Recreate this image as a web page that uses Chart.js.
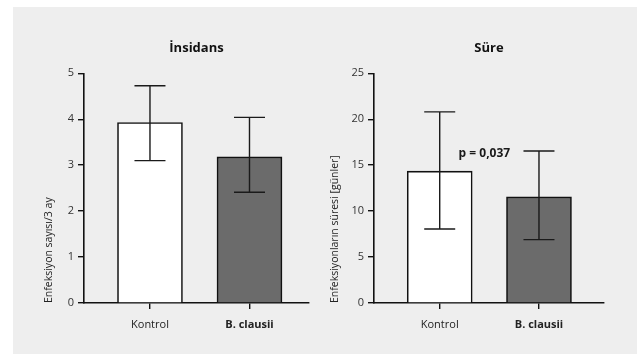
<!DOCTYPE html>
<html>
<head>
<meta charset="utf-8">
<script src="https://cdn.jsdelivr.net/npm/chart.js@4.4.1/dist/chart.umd.min.js"></script>
<style>
  body { margin: 0; background: #fff; }
  #wrap { position: relative; width: 637px; height: 354px; overflow: hidden; }
  #bg { position: absolute; left: 13px; top: 7px; width: 624px; height: 347px; background: #eeeeee; }
  .box { position: absolute; top: 0; height: 354px; }
</style>
</head>
<body>
<div id="wrap">
  <div id="bg"></div>
  <div class="box" style="left:0; width:318px;"><canvas id="insidans"></canvas></div>
  <div class="box" style="left:318px; width:319px;"><canvas id="sure"></canvas></div>
</div>
<script>
// veriler
const kategoriler = ['Kontrol', 'B. clausii'];

const insidansDeger = [3.93, 3.18];
const insidansAlt = [3.10, 2.41];
const insidansUst = [4.73, 4.04];
const insidansTicks = [0, 1, 2, 3, 4, 5];

const sureDeger = [14.35, 11.55];
const sureAlt = [8.05, 6.9];
const sureUst = [20.8, 16.55];
const sureTicks = [0, 5, 10, 15, 20, 25];

const pDegeri = 'p = 0,037';
const pKonum = [1.45, 16.3]; // x (kategori ekseni), y (değer)

const FONT = '"Open Sans", "DejaVu Sans", sans-serif';
const barRenkleri = ['#ffffff', '#6b6b6b'];

// hata çubukları
const errorBars = {
    id: 'errorBars',
    afterDatasetsDraw(chart, args, opts) {
        const { ctx, scales: { x, y } } = chart;
        ctx.save();
        ctx.strokeStyle = '#1a1a1a';
        ctx.lineWidth = 1.4;
        opts.low.forEach((lo, i) => {
            const px = x.getPixelForValue(i + 1);
            const yLo = y.getPixelForValue(lo);
            const yHi = y.getPixelForValue(opts.high[i]);
            const w = opts.cap / 2;
            ctx.beginPath();
            ctx.moveTo(px, yLo); ctx.lineTo(px, yHi);
            ctx.moveTo(px - w, yLo); ctx.lineTo(px + w, yLo);
            ctx.moveTo(px - w, yHi); ctx.lineTo(px + w, yHi);
            ctx.stroke();
        });
        if (opts.note) {
            ctx.fillStyle = '#1a1a1a';
            ctx.font = 'bold 12px ' + FONT;
            ctx.textAlign = 'center';
            ctx.textBaseline = 'middle';
            ctx.fillText(opts.note.text, x.getPixelForValue(opts.note.at[0]), y.getPixelForValue(opts.note.at[1]));
        }
        ctx.restore();
    }
};

function grafik(id, cfg) {
    return new Chart(document.getElementById(id), {
        type: 'bar',
        data: {
            datasets: [{
                data: cfg.values.map((v, i) => ({ x: i + 1, y: v })),
                backgroundColor: barRenkleri,
                borderColor: '#111',
                borderWidth: 1.6,
                borderSkipped: 'bottom',
                barThickness: 65
            }]
        },
        options: {
            responsive: true,
            maintainAspectRatio: false,
            animation: false,
            layout: { padding: { left: 0, right: cfg.padRight, top: 0, bottom: 0 } },
            plugins: {
                legend: { display: false },
                tooltip: { enabled: false },
                title: {
                    display: true,
                    text: cfg.title,
                    fullSize: false,
                    color: '#111',
                    font: { family: FONT, size: 13, weight: 'bold' },
                    padding: { top: 40, bottom: 17.7 }
                },
                errorBars: { low: cfg.low, high: cfg.high, cap: 31, note: cfg.note }
            },
            scales: {
                x: {
                    type: 'linear',
                    min: cfg.xMin,
                    max: cfg.xMax,
                    offset: false,
                    afterBuildTicks: s => { s.ticks = kategoriler.map((k, i) => ({ value: i + 1 })); },
                    afterFit: s => { s.height = 51; },
                    grid: { offset: false, drawOnChartArea: false, drawTicks: true, tickLength: 6, color: '#111', lineWidth: 1.4 },
                    border: { color: '#111', width: 1.6 },
                    ticks: {
                        padding: 9,
                        color: '#222',
                        maxRotation: 0,
                        autoSkip: false,
                        callback: (v) => kategoriler[Math.round(v) - 1],
                        font: c => ({ family: FONT, size: 11, weight: c.index === 1 ? 'bold' : 'normal' })
                    }
                },
                y: {
                    min: 0,
                    max: cfg.ticks[cfg.ticks.length - 1],
                    afterBuildTicks: s => { s.ticks = cfg.ticks.map(v => ({ value: v })); },
                    afterFit: s => { s.width = cfg.yWidth; },
                    grid: { drawOnChartArea: false, drawTicks: true, tickLength: 6, color: '#111', lineWidth: 1.4 },
                    border: { color: '#111', width: 1.6 },
                    ticks: { padding: 4, color: '#333', font: { family: FONT, size: 11 } },
                    title: {
                        display: true,
                        text: cfg.yTitle,
                        align: 'start',
                        color: '#222',
                        font: { family: FONT, size: 10.5 },
                        padding: { top: cfg.yTitlePad, bottom: 0 }
                    }
                }
            }
        },
        plugins: [errorBars]
    });
}

grafik('insidans', {
    title: 'İnsidans',
    yTitle: 'Enfeksiyon sayısı/3 ay',
    values: insidansDeger, low: insidansAlt, high: insidansUst, ticks: insidansTicks,
    xMin: 0.337, xMax: 2.598, yWidth: 84, yTitlePad: 42.7, padRight: 9
});

grafik('sure', {
    title: 'Süre',
    yTitle: 'Enfeksiyonların süresi [günler]',
    values: sureDeger, low: sureAlt, high: sureUst, ticks: sureTicks,
    xMin: 0.338, xMax: 2.655, yWidth: 56, yTitlePad: 10.7, padRight: 33,
    note: { text: pDegeri, at: pKonum }
});
</script>
</body>
</html>
